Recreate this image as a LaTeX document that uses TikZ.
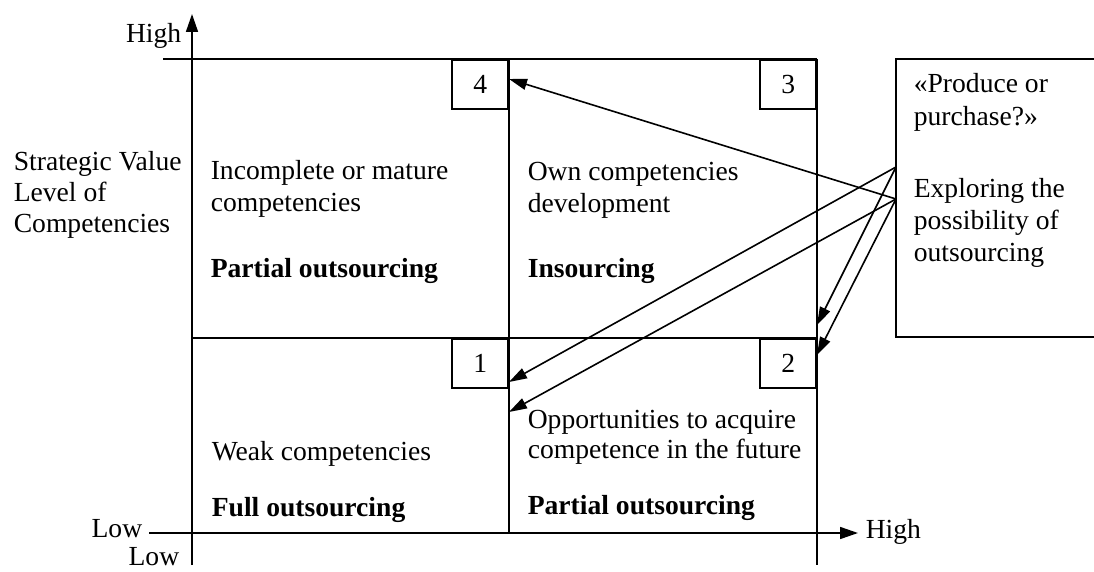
\documentclass[tikz,border=0pt]{standalone}
\usepackage{fontspec}
\setmainfont{Liberation Serif}
\usetikzlibrary{arrows.meta}
\newcommand{\mlines}[1]{\begin{tabular}[t]{@{}l@{}}#1\end{tabular}}
\begin{document}
\begin{tikzpicture}[x=1pt,y=-1pt,line width=1.6pt,
  txt/.style={inner sep=0pt, anchor=base west, font=\fontsize{27.6}{32}\selectfont},
  bold/.style={txt, font=\fontsize{27.6}{32}\selectfont\bfseries},
  numbox/.style={draw, line width=1.6pt, minimum width=56pt, minimum height=49pt,
    inner sep=0pt, anchor=north east, font=\fontsize{27.6}{32}\selectfont},
  axisarrow/.style={-{Triangle[length=18pt,width=12pt]}},
  link/.style={-{Triangle[length=18pt,width=11pt]}}]
\useasboundingbox (0,0) rectangle (1094,572);

% axes
\coordinate (ybot) at (192,565);
\coordinate (ytop) at (192,14);
\coordinate (xleft) at (149,533);
\coordinate (xright) at (858,533);
\draw[axisarrow] (ybot) -- (ytop);
\draw[axisarrow] (xleft) -- (xright);

% grid of the matrix
\coordinate (tl) at (163,59);
\coordinate (tr) at (817,59);
\coordinate (ml) at (192,338);
\coordinate (mr) at (817,338);
\coordinate (ct) at (509,59);
\coordinate (cb) at (509,533);
\coordinate (rb) at (817,565);
\draw (tl) -- (tr);
\draw (ml) -- (mr);
\draw (ct) -- (cb);
\draw (tr) -- (rb);

% numbered corner boxes
\node[numbox] (n4) at (509,59) {4};
\node[numbox] (n3) at (817,59) {3};
\node[numbox] (n1) at (509,338) {1};
\node[numbox] (n2) at (817,338) {2};

% decision box on the right
\draw (1100,59) -- (896,59) -- (896,337) -- (1100,337);
\coordinate (s1) at (896,167);
\coordinate (s2) at (896,199);

% axis labels
\node[txt, anchor=base east] (yhigh) at (182,43) {High};
\node[txt, anchor=base east] (xlow) at (143,537) {Low};
\node[txt, anchor=base east] (ylow) at (180,565) {Low};
\node[txt] (xhigh) at (865,538) {High};
\node[txt, font=\fontsize{27.6}{31}\selectfont] (ylab) at (13,170.5)
  {\mlines{Strategic Value\\Level of\\Competencies}};

% quadrant texts
\node[txt] (q4a) at (210,180) {\mlines{Incomplete or mature\\competencies}};
\node[bold] (q4b) at (210,277) {Partial outsourcing};
\node[txt] (q3a) at (527,181) {\mlines{Own competencies\\development}};
\node[bold] (q3b) at (527,277) {Insourcing};
\node[txt] (q1a) at (211,460) {Weak competencies};
\node[bold] (q1b) at (211,516) {Full outsourcing};
\node[txt, font=\fontsize{27.6}{30}\selectfont] (q2a) at (527,428)
  {\mlines{Opportunities to acquire\\competence in the future}};
\node[bold] (q2b) at (527,514) {Partial outsourcing};

% decision box texts
\node[txt, font=\fontsize{27.6}{33}\selectfont] (d1) at (913,93) {\mlines{«Produce or\\purchase?»}};
\node[txt] (d2) at (913,197) {\mlines{Exploring the\\possibility of\\outsourcing}};

% arrows from the decision box
\coordinate (t4) at (509,79);
\coordinate (t1) at (509,382);
\coordinate (t1b) at (509,412);
\coordinate (t3) at (817,325);
\coordinate (t2) at (817,355);
\draw[link] (s2) -- (t4);
\draw[link] (s1) -- (t1);
\draw[link] (s2) -- (t1b);
\draw[link] (s1) -- (t3);
\draw[link] (s2) -- (t2);
\end{tikzpicture}
\end{document}
